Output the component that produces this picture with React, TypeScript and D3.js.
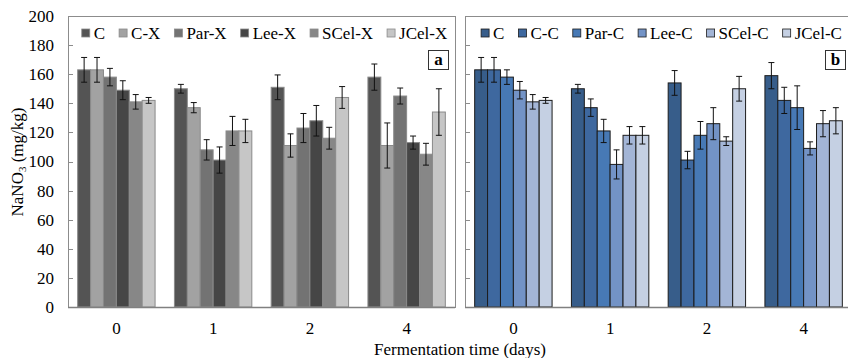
import React, { useEffect, useRef } from 'react';
import * as d3 from 'd3';

const categories = ['0', '1', '2', '4'];
const yTicks = [0, 20, 40, 60, 80, 100, 120, 140, 160, 180, 200];

const seriesA = ['C', 'C-X', 'Par-X', 'Lee-X', 'SCel-X', 'JCel-X'];
const valuesA = [
  [163, 150, 151, 158],
  [163, 137, 111, 111],
  [158, 108, 123, 145],
  [149, 101, 128, 113],
  [141, 121, 116, 105],
  [142, 121, 144, 134],
];
const errorsA = [
  [8.5, 3, 8.5, 9],
  [8.5, 3.5, 8, 15.5],
  [6, 7, 10, 5.5],
  [6.5, 9, 10.5, 4.5],
  [5, 10, 7.5, 7.5],
  [2, 8, 7.5, 16],
];
const colorsA = ['#545454', '#a2a2a2', '#737373', '#464646', '#878787', '#c6c6c6'];

const seriesB = ['C', 'C-C', 'Par-C', 'Lee-C', 'SCel-C', 'JCel-C'];
const valuesB = [
  [163, 150, 154, 159],
  [163, 137, 101, 142],
  [158, 121, 118, 137],
  [149, 98, 126, 109],
  [141, 118, 114, 126],
  [142, 118, 150, 128],
];
const errorsB = [
  [8.5, 3, 8.5, 9],
  [8.5, 6, 6, 9],
  [5, 8, 9.5, 15],
  [6, 10, 11, 4.5],
  [5, 6, 3, 9],
  [2, 6, 8.5, 9],
];
const colorsB = ['#375d8a', '#3e689f', '#4779b5', '#7393c6', '#a3b5d6', '#c5d0e3'];

const W = 848;
const H = 358;
const FONT = "'Liberation Serif', 'Times New Roman', serif";

export default function App() {
  const ref = useRef<SVGSVGElement | null>(null);

  useEffect(() => {
    const svg = d3.select(ref.current);
    svg.selectAll('*').remove();

    const top = 16;
    const bottom = 307;
    const y = d3.scaleLinear().domain([0, 200]).range([bottom, top]);

    const panels = [
      { x0: 68, x1: 455, series: seriesA, values: valuesA, errors: errorsA, colors: colorsA, barStroke: '#8a8a8a', label: 'a' },
      { x0: 465, x1: 852, series: seriesB, values: valuesB, errors: errorsB, colors: colorsB, barStroke: '#1c1c1c', label: 'b' },
    ];

    panels.forEach((p, pi) => {
      const g = svg.append('g');
      const x = d3.scaleBand<string>().domain(categories).range([p.x0, p.x1]).paddingInner(0.2).paddingOuter(0.1);
      const xs = d3.scaleBand<string>().domain(p.series).range([0, x.bandwidth()]).padding(0);

      g.append('rect')
        .attr('x', p.x0 + 0.5).attr('y', top + 0.5)
        .attr('width', p.x1 - p.x0).attr('height', bottom - top)
        .attr('fill', '#fff').attr('stroke', '#8c8c8c').attr('stroke-width', 1);

      g.selectAll('line.tick').data(yTicks).enter().append('line')
        .attr('x1', p.x0).attr('x2', p.x0 + 5)
        .attr('y1', (d) => Math.round(y(d)) + 0.5).attr('y2', (d) => Math.round(y(d)) + 0.5)
        .attr('stroke', '#8c8c8c').attr('stroke-width', 1);

      if (pi === 0) {
        g.selectAll('text.ytl').data(yTicks).enter().append('text')
          .attr('x', 54).attr('y', (d) => y(d))
          .attr('dy', '0.35em').attr('text-anchor', 'end')
          .style('font-family', FONT).style('font-size', '17px').attr('fill', '#000')
          .text((d) => String(d));
      }

      p.series.forEach((s, si) => {
        const gs = g.append('g');
        gs.selectAll('rect').data(categories).enter().append('rect')
          .attr('x', (c) => (x(c) as number) + (xs(s) as number))
          .attr('y', (c, ci) => y(p.values[si][ci]))
          .attr('width', xs.bandwidth())
          .attr('height', (c, ci) => bottom - y(p.values[si][ci]))
          .attr('fill', p.colors[si])
          .attr('stroke', p.barStroke).attr('stroke-width', 1);
      });

      g.append('line')
        .attr('x1', p.x0).attr('x2', p.x1)
        .attr('y1', bottom + 0.5).attr('y2', bottom + 0.5)
        .attr('stroke', '#808080').attr('stroke-width', 1.5);

      p.series.forEach((s, si) => {
        categories.forEach((c, ci) => {
          const cx = (x(c) as number) + (xs(s) as number) + xs.bandwidth() / 2;
          const v = p.values[si][ci];
          const e = p.errors[si][ci];
          const yt = y(v + e);
          const yb = y(v - e);
          g.append('line').attr('x1', cx).attr('x2', cx).attr('y1', yt).attr('y2', yb)
            .attr('stroke', '#111').attr('stroke-width', 1);
          [yt, yb].forEach((yy) => {
            g.append('line').attr('x1', cx - 3).attr('x2', cx + 3).attr('y1', yy).attr('y2', yy)
              .attr('stroke', '#111').attr('stroke-width', 1);
          });
        });
      });

      g.selectAll('text.xl').data(categories).enter().append('text')
        .attr('x', (c) => (x(c) as number) + x.bandwidth() / 2)
        .attr('y', 334).attr('text-anchor', 'middle')
        .style('font-family', FONT).style('font-size', '17px').attr('fill', '#000')
        .text((c) => c);

      const lg = g.append('g');
      let cursor = 0;
      p.series.forEach((s, si) => {
        const it = lg.append('g');
        it.append('rect').attr('x', cursor).attr('y', 29).attr('width', 8).attr('height', 8)
          .attr('fill', p.colors[si]).attr('stroke', p.barStroke).attr('stroke-width', 0.8);
        const t = it.append('text').attr('x', cursor + 12).attr('y', 39)
          .style('font-family', FONT).style('font-size', '17px').attr('fill', '#000').text(s);
        const tw = (t.node() as SVGTextElement).getComputedTextLength();
        cursor += 12 + tw + 14;
      });
      const total = cursor - 14;
      const center = (p.x0 + p.x1) / 2 + 3;
      lg.attr('transform', `translate(${center - total / 2},0)`);

      const bx = p.x1 - 27;
      g.append('rect').attr('x', bx + 0.5).attr('y', 50.5).attr('width', 20).attr('height', 19)
        .attr('fill', '#fff').attr('stroke', '#333').attr('stroke-width', 1);
      g.append('text').attr('x', bx + 10.5).attr('y', 65).attr('text-anchor', 'middle')
        .style('font-family', FONT).style('font-size', '17px').style('font-weight', 'bold').attr('fill', '#000')
        .text(p.label);
    });

    const yl = svg.append('text')
      .attr('transform', 'translate(23,162) rotate(-90)')
      .attr('text-anchor', 'middle')
      .style('font-family', FONT).style('font-size', '17px').attr('fill', '#000');
    yl.append('tspan').text('NaNO');
    yl.append('tspan').style('font-size', '11px').attr('dy', 3).text('3');
    yl.append('tspan').attr('dy', -3).text(' (mg/kg)');

    svg.append('text').attr('x', 460).attr('y', 355).attr('text-anchor', 'middle')
      .style('font-family', FONT).style('font-size', '17px').attr('fill', '#000')
      .text('Fermentation time (days)');
  }, []);

  return (
    <svg
      ref={ref}
      width={W}
      height={H}
      viewBox={`0 0 ${W} ${H}`}
      style={{ position: 'absolute', left: 0, top: 0, background: '#fff' }}
    />
  );
}
